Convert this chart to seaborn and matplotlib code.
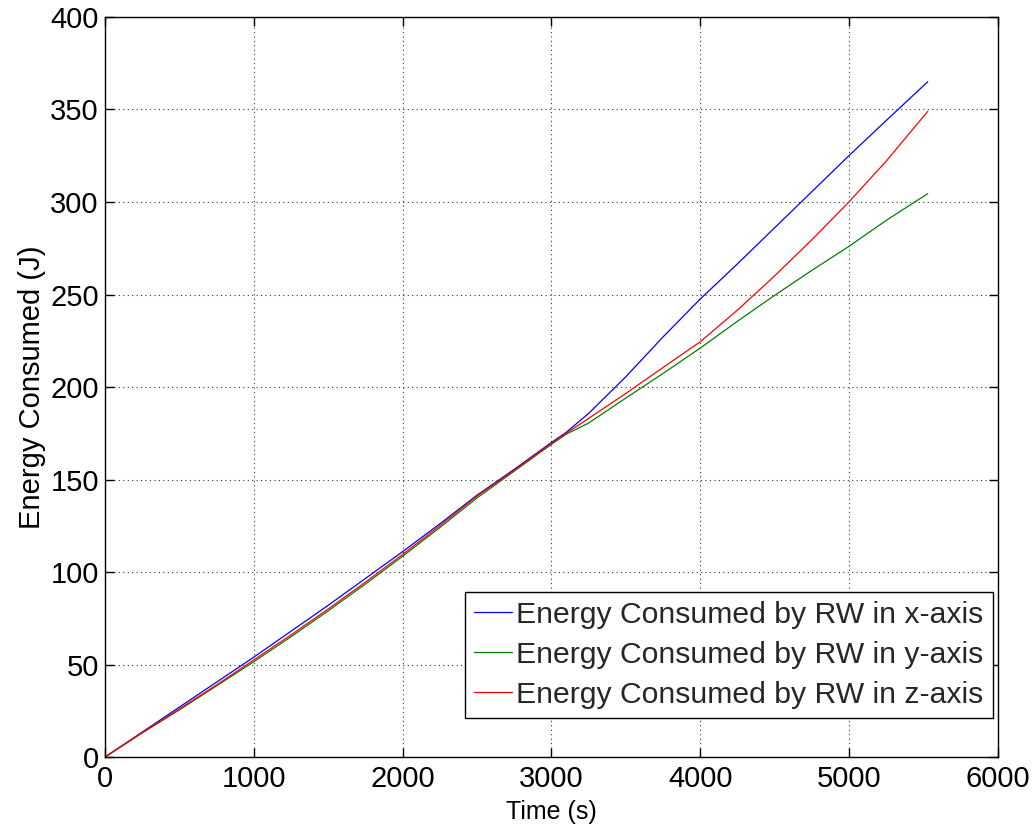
import numpy as np
import pandas as pd
import matplotlib
matplotlib.use("Agg")
import matplotlib.pyplot as plt
import seaborn as sns

# Time samples (s)
time_s = [0, 250, 500, 750, 1000, 1250, 1500, 1750, 2000, 2250, 2500, 2750, 3000,
          3100, 3250, 3500, 3750, 4000, 4250, 4500, 4750, 5000, 5250, 5530]

energy_x = [0, 13.5, 27, 40.5, 54, 68, 82, 96.5, 111, 126, 141.5, 155.5, 170,
            175.5, 185.7, 205.5, 227, 247.5, 266.5, 286, 305.5, 325, 344, 365]
energy_y = [0, 13, 25.5, 38.5, 51.5, 65, 79, 93.5, 108.5, 124, 140, 154.5, 169,
            174.5, 180.5, 194, 207.3, 221, 235.5, 249.5, 263, 276, 290, 304.5]
energy_z = [0, 13.2, 26, 39, 52.5, 66, 80, 94.5, 109.5, 125, 141, 155, 169.5,
            175, 183, 196.5, 210.5, 224.4, 241.5, 260, 279.5, 300, 322, 349]

labels = ["Energy Consumed by RW in x-axis",
          "Energy Consumed by RW in y-axis",
          "Energy Consumed by RW in z-axis"]
colors = ["#0000ff", "#008000", "#ff0000"]

df = pd.concat([
    pd.DataFrame({"Time": time_s, "Energy": e, "Series": lab})
    for e, lab in zip([energy_x, energy_y, energy_z], labels)
])

sns.set_theme(style="white")
plt.rcParams["font.family"] = ["Liberation Sans", "DejaVu Sans"]

fig = plt.figure(figsize=(10.36, 8.33), dpi=100)
ax = fig.add_axes([0.1014, 0.0912, 0.8616, 0.8884])

sns.lineplot(data=df, x="Time", y="Energy", hue="Series", palette=colors,
             linewidth=0.9, ax=ax, sort=False)

ax.set_xlim(0, 6000)
ax.set_ylim(0, 400)
ax.set_xticks(np.arange(0, 6001, 1000))
ax.set_yticks(np.arange(0, 401, 50))
ax.grid(True, linestyle=(0, (1, 3)), color="black", linewidth=0.8, alpha=0.8)
for s in ax.spines.values():
    s.set_color("black")
    s.set_linewidth(1.0)
ax.tick_params(direction="in", length=6.5, width=1, colors="black",
               labelsize=21, top=True, right=True, bottom=True, left=True)
ax.tick_params(axis="y", pad=4.5)
ax.tick_params(axis="x", pad=6)
ax.set_xlabel("Time (s)", fontsize=18, color="black", labelpad=5)
ax.set_ylabel("Energy Consumed (J)", fontsize=21, color="black", labelpad=3)

leg = ax.legend(loc="lower right", bbox_to_anchor=(0.9944, 0.0527),
                fontsize=21.7, frameon=True, fancybox=False,
                edgecolor="black", handlelength=1.25, handletextpad=0.15,
                borderaxespad=0.0, borderpad=0.3, labelspacing=0.4)
leg.get_frame().set_linewidth(1.0)
leg.get_frame().set_alpha(1)

fig.savefig("out.png", dpi=100, facecolor="white")
